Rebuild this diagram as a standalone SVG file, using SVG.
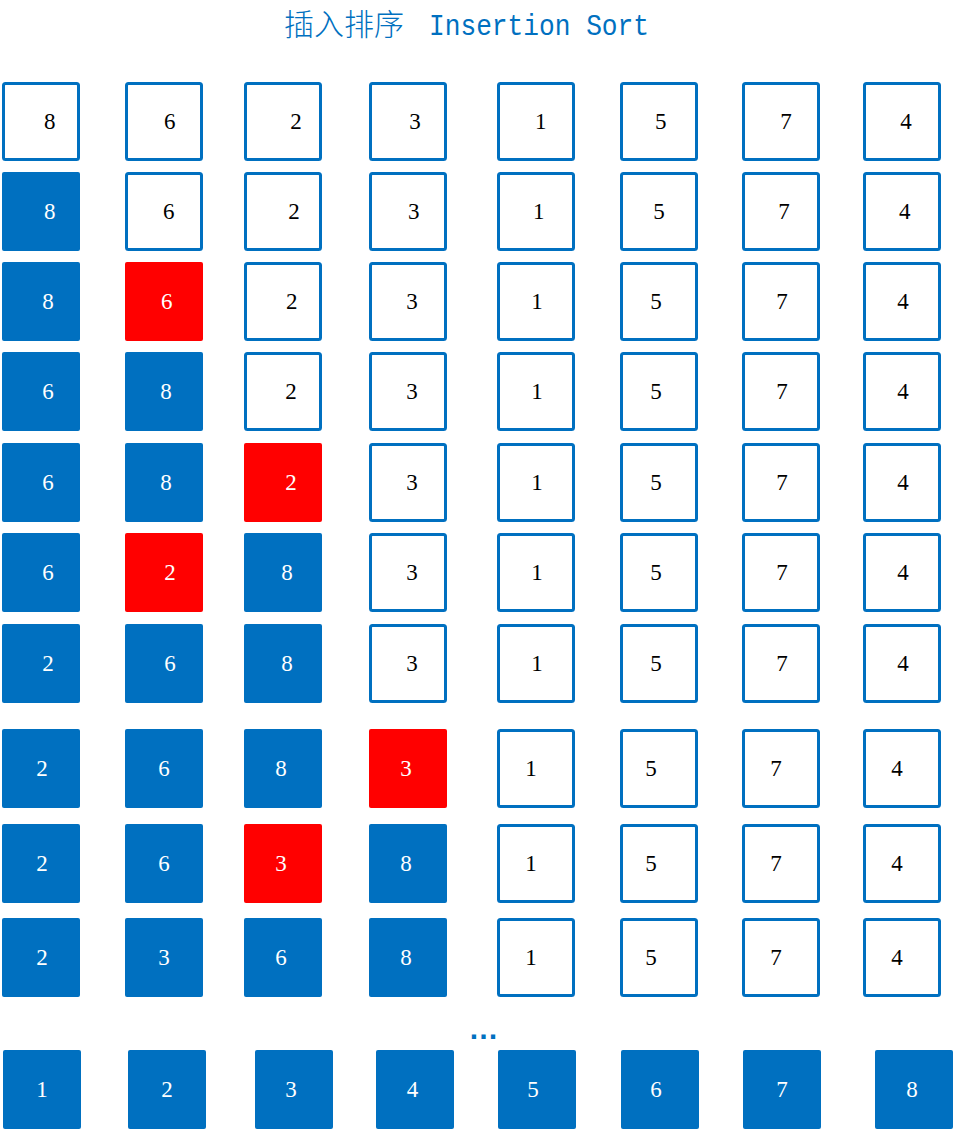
<svg xmlns="http://www.w3.org/2000/svg" width="955" height="1130" viewBox="0 0 955 1130">
<style>
.o{fill:#fff;stroke:#0070C0;stroke-width:3}
.b{fill:#0070C0}
.r{fill:#FF0000}
text.n{font-family:"Liberation Serif","DejaVu Serif",serif;font-size:23px;text-anchor:middle}
.k{fill:#000}
.w{fill:#fff}
.t{fill:#0070C0}
</style>
<rect width="955" height="1130" fill="#fff"/>
<g id="title">
<text x="284" y="35" class="t" font-family="'Noto Sans CJK SC',sans-serif" font-size="30" font-weight="300">插入排序</text>
<text x="429" y="35" class="t" font-family="'Liberation Mono',monospace" font-size="30" textLength="220" lengthAdjust="spacingAndGlyphs">Insertion Sort</text>
</g>
<g id="connectors"></g>
<!-- Row 1 -->
<g id="r1c1"><rect class="o" x="3.5" y="83.5" width="75" height="76" rx="2"/><text class="n k" x="49.7" y="129">8</text></g>
<g id="r1c2"><rect class="o" x="126.5" y="83.5" width="75" height="76" rx="2"/><text class="n k" x="169.7" y="129">6</text></g>
<g id="r1c3"><rect class="o" x="245.5" y="83.5" width="75" height="76" rx="2"/><text class="n k" x="296" y="129">2</text></g>
<g id="r1c4"><rect class="o" x="370.5" y="83.5" width="75" height="76" rx="2"/><text class="n k" x="415" y="129">3</text></g>
<g id="r1c5"><rect class="o" x="498.5" y="83.5" width="75" height="76" rx="2"/><text class="n k" x="540.8" y="129">1</text></g>
<g id="r1c6"><rect class="o" x="621.5" y="83.5" width="75" height="76" rx="2"/><text class="n k" x="660.8" y="129">5</text></g>
<g id="r1c7"><rect class="o" x="743.5" y="83.5" width="75" height="76" rx="2"/><text class="n k" x="786" y="129">7</text></g>
<g id="r1c8"><rect class="o" x="864.5" y="83.5" width="75" height="76" rx="2"/><text class="n k" x="906" y="129">4</text></g>
<!-- Row 2 -->
<g id="r2c1"><rect class="b" x="2" y="172" width="78" height="79" rx="2"/><text class="n w" x="49.7" y="219">8</text></g>
<g id="r2c2"><rect class="o" x="126.5" y="173.5" width="75" height="76" rx="2"/><text class="n k" x="168.7" y="219">6</text></g>
<g id="r2c3"><rect class="o" x="245.5" y="173.5" width="75" height="76" rx="2"/><text class="n k" x="294" y="219">2</text></g>
<g id="r2c4"><rect class="o" x="370.5" y="173.5" width="75" height="76" rx="2"/><text class="n k" x="413.8" y="219">3</text></g>
<g id="r2c5"><rect class="o" x="498.5" y="173.5" width="75" height="76" rx="2"/><text class="n k" x="538.7" y="219">1</text></g>
<g id="r2c6"><rect class="o" x="621.5" y="173.5" width="75" height="76" rx="2"/><text class="n k" x="659" y="219">5</text></g>
<g id="r2c7"><rect class="o" x="743.5" y="173.5" width="75" height="76" rx="2"/><text class="n k" x="784" y="219">7</text></g>
<g id="r2c8"><rect class="o" x="864.5" y="173.5" width="75" height="76" rx="2"/><text class="n k" x="904.7" y="219">4</text></g>
<!-- Row 3 -->
<g id="r3c1"><rect class="b" x="2" y="262" width="78" height="79" rx="2"/><text class="n w" x="48" y="309">8</text></g>
<g id="r3c2"><rect class="r" x="125" y="262" width="78" height="79" rx="2"/><text class="n w" x="166.7" y="309">6</text></g>
<g id="r3c3"><rect class="o" x="245.5" y="263.5" width="75" height="76" rx="2"/><text class="n k" x="291.7" y="309">2</text></g>
<g id="r3c4"><rect class="o" x="370.5" y="263.5" width="75" height="76" rx="2"/><text class="n k" x="412" y="309">3</text></g>
<g id="r3c5"><rect class="o" x="498.5" y="263.5" width="75" height="76" rx="2"/><text class="n k" x="537" y="309">1</text></g>
<g id="r3c6"><rect class="o" x="621.5" y="263.5" width="75" height="76" rx="2"/><text class="n k" x="656" y="309">5</text></g>
<g id="r3c7"><rect class="o" x="743.5" y="263.5" width="75" height="76" rx="2"/><text class="n k" x="782" y="309">7</text></g>
<g id="r3c8"><rect class="o" x="864.5" y="263.5" width="75" height="76" rx="2"/><text class="n k" x="903" y="309">4</text></g>
<!-- Row 4 -->
<g id="r4c1"><rect class="b" x="2" y="352" width="78" height="79" rx="2"/><text class="n w" x="48" y="399">6</text></g>
<g id="r4c2"><rect class="b" x="125" y="352" width="78" height="79" rx="2"/><text class="n w" x="166" y="399">8</text></g>
<g id="r4c3"><rect class="o" x="245.5" y="353.5" width="75" height="76" rx="2"/><text class="n k" x="291" y="399">2</text></g>
<g id="r4c4"><rect class="o" x="370.5" y="353.5" width="75" height="76" rx="2"/><text class="n k" x="412" y="399">3</text></g>
<g id="r4c5"><rect class="o" x="498.5" y="353.5" width="75" height="76" rx="2"/><text class="n k" x="537" y="399">1</text></g>
<g id="r4c6"><rect class="o" x="621.5" y="353.5" width="75" height="76" rx="2"/><text class="n k" x="656" y="399">5</text></g>
<g id="r4c7"><rect class="o" x="743.5" y="353.5" width="75" height="76" rx="2"/><text class="n k" x="782" y="399">7</text></g>
<g id="r4c8"><rect class="o" x="864.5" y="353.5" width="75" height="76" rx="2"/><text class="n k" x="903" y="399">4</text></g>
<!-- Row 5 -->
<g id="r5c1"><rect class="b" x="2" y="443" width="78" height="79" rx="2"/><text class="n w" x="48" y="490">6</text></g>
<g id="r5c2"><rect class="b" x="125" y="443" width="78" height="79" rx="2"/><text class="n w" x="166" y="490">8</text></g>
<g id="r5c3"><rect class="r" x="244" y="443" width="78" height="79" rx="2"/><text class="n w" x="291" y="490">2</text></g>
<g id="r5c4"><rect class="o" x="370.5" y="444.5" width="75" height="76" rx="2"/><text class="n k" x="412" y="490">3</text></g>
<g id="r5c5"><rect class="o" x="498.5" y="444.5" width="75" height="76" rx="2"/><text class="n k" x="537" y="490">1</text></g>
<g id="r5c6"><rect class="o" x="621.5" y="444.5" width="75" height="76" rx="2"/><text class="n k" x="656" y="490">5</text></g>
<g id="r5c7"><rect class="o" x="743.5" y="444.5" width="75" height="76" rx="2"/><text class="n k" x="782" y="490">7</text></g>
<g id="r5c8"><rect class="o" x="864.5" y="444.5" width="75" height="76" rx="2"/><text class="n k" x="903" y="490">4</text></g>
<!-- Row 6 -->
<g id="r6c1"><rect class="b" x="2" y="533" width="78" height="79" rx="2"/><text class="n w" x="48" y="580">6</text></g>
<g id="r6c2"><rect class="r" x="125" y="533" width="78" height="79" rx="2"/><text class="n w" x="170" y="580">2</text></g>
<g id="r6c3"><rect class="b" x="244" y="533" width="78" height="79" rx="2"/><text class="n w" x="287" y="580">8</text></g>
<g id="r6c4"><rect class="o" x="370.5" y="534.5" width="75" height="76" rx="2"/><text class="n k" x="412" y="580">3</text></g>
<g id="r6c5"><rect class="o" x="498.5" y="534.5" width="75" height="76" rx="2"/><text class="n k" x="537" y="580">1</text></g>
<g id="r6c6"><rect class="o" x="621.5" y="534.5" width="75" height="76" rx="2"/><text class="n k" x="656" y="580">5</text></g>
<g id="r6c7"><rect class="o" x="743.5" y="534.5" width="75" height="76" rx="2"/><text class="n k" x="782" y="580">7</text></g>
<g id="r6c8"><rect class="o" x="864.5" y="534.5" width="75" height="76" rx="2"/><text class="n k" x="903" y="580">4</text></g>
<!-- Row 7 -->
<g id="r7c1"><rect class="b" x="2" y="624" width="78" height="79" rx="2"/><text class="n w" x="48" y="671">2</text></g>
<g id="r7c2"><rect class="b" x="125" y="624" width="78" height="79" rx="2"/><text class="n w" x="170" y="671">6</text></g>
<g id="r7c3"><rect class="b" x="244" y="624" width="78" height="79" rx="2"/><text class="n w" x="287" y="671">8</text></g>
<g id="r7c4"><rect class="o" x="370.5" y="625.5" width="75" height="76" rx="2"/><text class="n k" x="412" y="671">3</text></g>
<g id="r7c5"><rect class="o" x="498.5" y="625.5" width="75" height="76" rx="2"/><text class="n k" x="537" y="671">1</text></g>
<g id="r7c6"><rect class="o" x="621.5" y="625.5" width="75" height="76" rx="2"/><text class="n k" x="656" y="671">5</text></g>
<g id="r7c7"><rect class="o" x="743.5" y="625.5" width="75" height="76" rx="2"/><text class="n k" x="782" y="671">7</text></g>
<g id="r7c8"><rect class="o" x="864.5" y="625.5" width="75" height="76" rx="2"/><text class="n k" x="903" y="671">4</text></g>
<!-- Row 8 -->
<g id="r8c1"><rect class="b" x="2" y="729" width="78" height="79" rx="2"/><text class="n w" x="42" y="776">2</text></g>
<g id="r8c2"><rect class="b" x="125" y="729" width="78" height="79" rx="2"/><text class="n w" x="164" y="776">6</text></g>
<g id="r8c3"><rect class="b" x="244" y="729" width="78" height="79" rx="2"/><text class="n w" x="281" y="776">8</text></g>
<g id="r8c4"><rect class="r" x="369" y="729" width="78" height="79" rx="2"/><text class="n w" x="406" y="776">3</text></g>
<g id="r8c5"><rect class="o" x="498.5" y="730.5" width="75" height="76" rx="2"/><text class="n k" x="531" y="776">1</text></g>
<g id="r8c6"><rect class="o" x="621.5" y="730.5" width="75" height="76" rx="2"/><text class="n k" x="651" y="776">5</text></g>
<g id="r8c7"><rect class="o" x="743.5" y="730.5" width="75" height="76" rx="2"/><text class="n k" x="776" y="776">7</text></g>
<g id="r8c8"><rect class="o" x="864.5" y="730.5" width="75" height="76" rx="2"/><text class="n k" x="897" y="776">4</text></g>
<!-- Row 9 -->
<g id="r9c1"><rect class="b" x="2" y="824" width="78" height="79" rx="2"/><text class="n w" x="42" y="871">2</text></g>
<g id="r9c2"><rect class="b" x="125" y="824" width="78" height="79" rx="2"/><text class="n w" x="164" y="871">6</text></g>
<g id="r9c3"><rect class="r" x="244" y="824" width="78" height="79" rx="2"/><text class="n w" x="281" y="871">3</text></g>
<g id="r9c4"><rect class="b" x="369" y="824" width="78" height="79" rx="2"/><text class="n w" x="406" y="871">8</text></g>
<g id="r9c5"><rect class="o" x="498.5" y="825.5" width="75" height="76" rx="2"/><text class="n k" x="531" y="871">1</text></g>
<g id="r9c6"><rect class="o" x="621.5" y="825.5" width="75" height="76" rx="2"/><text class="n k" x="651" y="871">5</text></g>
<g id="r9c7"><rect class="o" x="743.5" y="825.5" width="75" height="76" rx="2"/><text class="n k" x="776" y="871">7</text></g>
<g id="r9c8"><rect class="o" x="864.5" y="825.5" width="75" height="76" rx="2"/><text class="n k" x="897" y="871">4</text></g>
<!-- Row 10 -->
<g id="r10c1"><rect class="b" x="2" y="918" width="78" height="79" rx="2"/><text class="n w" x="42" y="965">2</text></g>
<g id="r10c2"><rect class="b" x="125" y="918" width="78" height="79" rx="2"/><text class="n w" x="164" y="965">3</text></g>
<g id="r10c3"><rect class="b" x="244" y="918" width="78" height="79" rx="2"/><text class="n w" x="281" y="965">6</text></g>
<g id="r10c4"><rect class="b" x="369" y="918" width="78" height="79" rx="2"/><text class="n w" x="406" y="965">8</text></g>
<g id="r10c5"><rect class="o" x="498.5" y="919.5" width="75" height="76" rx="2"/><text class="n k" x="531" y="965">1</text></g>
<g id="r10c6"><rect class="o" x="621.5" y="919.5" width="75" height="76" rx="2"/><text class="n k" x="651" y="965">5</text></g>
<g id="r10c7"><rect class="o" x="743.5" y="919.5" width="75" height="76" rx="2"/><text class="n k" x="776" y="965">7</text></g>
<g id="r10c8"><rect class="o" x="864.5" y="919.5" width="75" height="76" rx="2"/><text class="n k" x="897" y="965">4</text></g>
<!-- Ellipsis -->
<g id="ellipsis"><text x="483.5" y="1039" class="t" font-family="'Liberation Sans',sans-serif" font-size="30" font-weight="bold" text-anchor="middle">…</text></g>
<!-- Row 11 -->
<g id="r11c1"><rect class="b" x="3" y="1050" width="78" height="79" rx="2"/><text class="n w" x="42" y="1097">1</text></g>
<g id="r11c2"><rect class="b" x="128" y="1050" width="78" height="79" rx="2"/><text class="n w" x="167" y="1097">2</text></g>
<g id="r11c3"><rect class="b" x="255" y="1050" width="78" height="79" rx="2"/><text class="n w" x="291" y="1097">3</text></g>
<g id="r11c4"><rect class="b" x="376" y="1050" width="78" height="79" rx="2"/><text class="n w" x="412.5" y="1097">4</text></g>
<g id="r11c5"><rect class="b" x="498" y="1050" width="78" height="79" rx="2"/><text class="n w" x="533" y="1097">5</text></g>
<g id="r11c6"><rect class="b" x="621" y="1050" width="78" height="79" rx="2"/><text class="n w" x="656" y="1097">6</text></g>
<g id="r11c7"><rect class="b" x="743" y="1050" width="78" height="79" rx="2"/><text class="n w" x="782" y="1097">7</text></g>
<g id="r11c8"><rect class="b" x="875" y="1050" width="78" height="79" rx="2"/><text class="n w" x="912" y="1097">8</text></g>
</svg>
